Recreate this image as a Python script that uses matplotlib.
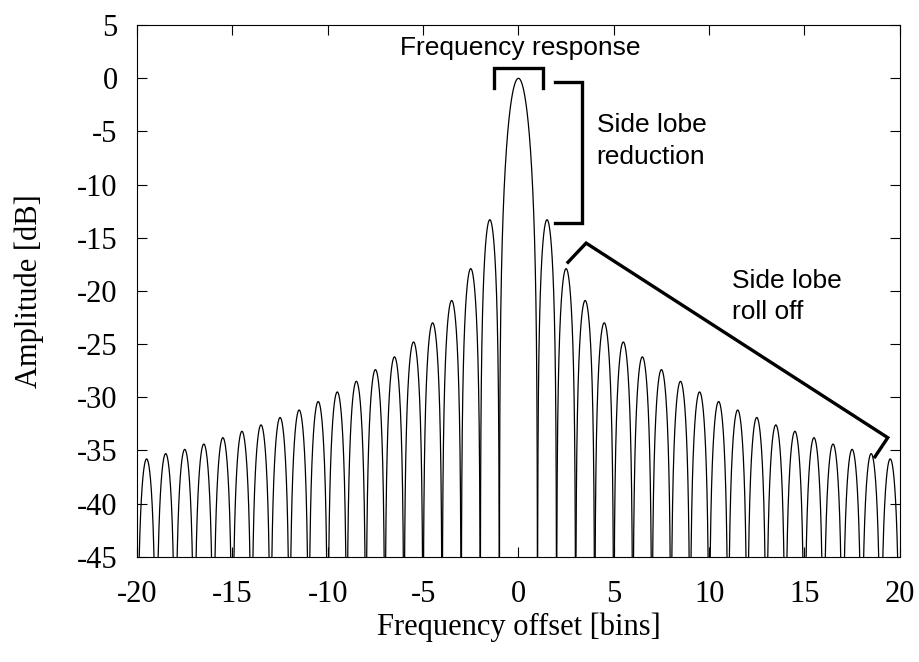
import numpy as np
import matplotlib.pyplot as plt

# side lobe peak levels [dB], lobe k lies between k and k+1 bins
lobe_start = np.arange(1, 20)
lobe_peak = [-13.3, -17.9, -20.9, -23.0, -24.8, -26.2, -27.4, -28.5, -29.5, -30.4,
             -31.2, -31.9, -32.6, -33.2, -33.8, -34.4, -34.9, -35.3, -35.8]
main_peak = 0.0

xticks = list(range(-20, 21, 5))
yticks = list(range(-45, 6, 5))

plt.rcParams['font.family'] = ['Liberation Serif', 'DejaVu Serif']
plt.rcParams['axes.unicode_minus'] = False
fig = plt.figure(figsize=(9.2, 6.62), dpi=100)
ax = fig.add_axes([0.149, 0.159, 0.829, 0.803])

t = np.linspace(0.0005, 0.9995, 400)
# main lobe
xm = np.linspace(-0.9995, 0.9995, 800)
ym = main_peak + 20 * np.log10(np.abs(np.sinc(xm)))
ax.plot(xm, ym, color='black', lw=0.9)
for k, pk in zip(lobe_start, lobe_peak):
    shape = 20 * np.log10(np.sin(np.pi * t))
    for sgn in (1, -1):
        ax.plot(sgn * (k + t), pk + shape, color='black', lw=0.9)

ax.set_xlim(-20, 20)
ax.set_ylim(-45, 5)
ax.set_xticks(xticks)
ax.set_yticks(yticks)
ax.tick_params(direction='in', length=7, width=0.8, top=True, right=True,
               labelsize=22)
ax.tick_params(axis='x', pad=17)
ax.tick_params(axis='y', pad=14)
ax.set_xlabel('Frequency offset [bins]', fontsize=22, labelpad=2)
ax.set_ylabel('Amplitude [dB]', fontsize=22, labelpad=24)

# annotations
sans = ['Liberation Sans', 'DejaVu Sans']
bk = dict(color='black', lw=2.4, solid_joinstyle='miter', clip_on=False)
ax.plot([-1.3, -1.3, 1.3, 1.3], [-0.9, 1.0, 1.0, -0.9], **bk)
ax.text(0.08, 2.85, 'Frequency response', family=sans, fontsize=19,
        ha='center', va='center')
ax.plot([1.9, 3.33, 3.33, 1.9], [-0.35, -0.35, -13.6, -13.6], **bk)
ax.text(4.1, -5.9, 'Side lobe\nreduction', family=sans, fontsize=19,
        ha='left', va='center', linespacing=1.45)
ax.plot([2.6, 3.55, 19.37, 18.7], [-17.3, -15.5, -33.8, -35.6], **bk)
ax.text(11.2, -20.5, 'Side lobe\nroll off', family=sans, fontsize=19,
        ha='left', va='center', linespacing=1.35)

fig.savefig('out.png', dpi=100)
